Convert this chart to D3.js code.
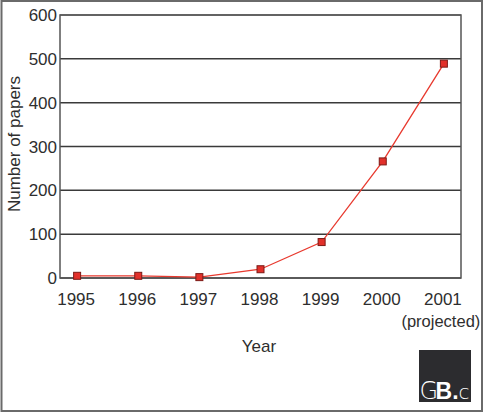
<!DOCTYPE html>
<html>
<head>
<meta charset="utf-8">
<script src="https://cdn.jsdelivr.net/npm/d3@7"></script>
<style>
body{margin:0;background:#fff;}
text{font-family:"Liberation Sans",Arial,sans-serif;fill:#2e2e2e;}
</style>
</head>
<body>
<div id="plot"></div>
<script>
//Data;
const years=["1995","1996","1997","1998","1999","2000","2001"];
const papers=[5,5,2,20,82,266,489];
const yTicks=[0,100,200,300,400,500,600];

//Size;
const w=488;
const h=418;
const m={left:60,right:27,top:15,bottom:140};

const svg=d3.select("#plot")
			.append("svg")
			  .attr("width",w)
			  .attr("height",h);

//Outer frame;
svg.append("rect")
   .attr("x",1.5).attr("y",1)
   .attr("width",480.5).attr("height",410)
   .attr("fill","none")
   .attr("stroke","#6a6a6a")
   .attr("stroke-width",2);

//Scales;
const x=d3.scalePoint()
		  .domain(years)
		  .range([m.left,w-m.right])
		  .padding(0.28);

const y=d3.scaleLinear()
		  .domain([0,600])
		  .range([h-m.bottom,m.top]);

//Gridlines;
svg.append("g")
   .selectAll("line")
   .data(yTicks)
   .enter()
 .append("line")
   .attr("x1",m.left).attr("x2",w-m.right)
   .attr("y1",d=>y(d)).attr("y2",d=>y(d))
   .attr("stroke",d=>d===600?"#666":"#3a3a3a")
   .attr("stroke-width",1.5);

//Plot border;
svg.append("rect")
   .attr("x",m.left).attr("y",m.top)
   .attr("width",w-m.right-m.left).attr("height",y(0)-m.top)
   .attr("fill","none")
   .attr("stroke","#555")
   .attr("stroke-width",1.5);

//Y tick labels;
svg.append("g")
   .selectAll("text")
   .data(yTicks)
   .enter()
 .append("text")
   .attr("x",m.left-3)
   .attr("y",d=>y(d)+6)
   .attr("text-anchor","end")
   .style("font-size","17px")
   .text(d=>d);

//X tick labels;
svg.append("g")
   .selectAll("text")
   .data(years)
   .enter()
 .append("text")
   .attr("x",d=>x(d)-1)
   .attr("y",305)
   .attr("text-anchor","middle")
   .style("font-size","17px")
   .text(d=>d);

svg.append("text")
   .attr("x",x("2001")-3)
   .attr("y",327)
   .attr("text-anchor","middle")
   .style("font-size","16.5px")
   .text("(projected)");

//Axis titles;
svg.append("text")
   .attr("x",259)
   .attr("y",352)
   .attr("text-anchor","middle")
   .style("font-size","17px")
   .text("Year");

svg.append("text")
   .attr("transform","translate(20,144) rotate(-90)")
   .attr("text-anchor","middle")
   .style("font-size","17px")
   .text("Number of papers");

//Line;
const line=d3.line()
			 .x((d,i)=>x(years[i]))
			 .y(d=>y(d));

svg.append("path")
   .datum(papers)
   .attr("d",line)
   .attr("fill","none")
   .attr("stroke","#e8392e")
   .attr("stroke-width",1.3);

//Markers;
svg.append("g")
   .selectAll("rect")
   .data(papers)
   .enter()
 .append("rect")
   .attr("x",(d,i)=>x(years[i])-3.5)
   .attr("y",d=>y(d)-3.5)
   .attr("width",7).attr("height",7)
   .attr("fill","#e2302a")
   .attr("stroke","#7c1a16")
   .attr("stroke-width",1);

//Logo;
svg.append("rect")
   .attr("x",419).attr("y",350)
   .attr("width",52).attr("height",52)
   .attr("fill","#2c2c2f");

const logo=svg.append("text")
			  .attr("x",419.5)
			  .attr("y",399)
			  .style("font-size","24px");
logo.append("tspan")
	.style("fill","#fff")
	.style("font-family","'DejaVu Sans'")
	.style("font-weight","200")
	.style("letter-spacing","-2.5px")
	.text("G");
logo.append("tspan")
	.style("fill","#fff")
	.style("font-weight","bold")
	.style("font-size","23px")
	.text("B.");
logo.append("tspan")
	.style("fill","#fff")
	.style("font-family","'DejaVu Sans'")
	.style("font-weight","200")
	.style("font-size","20px")
	.text("c");
</script>
</body>
</html>
